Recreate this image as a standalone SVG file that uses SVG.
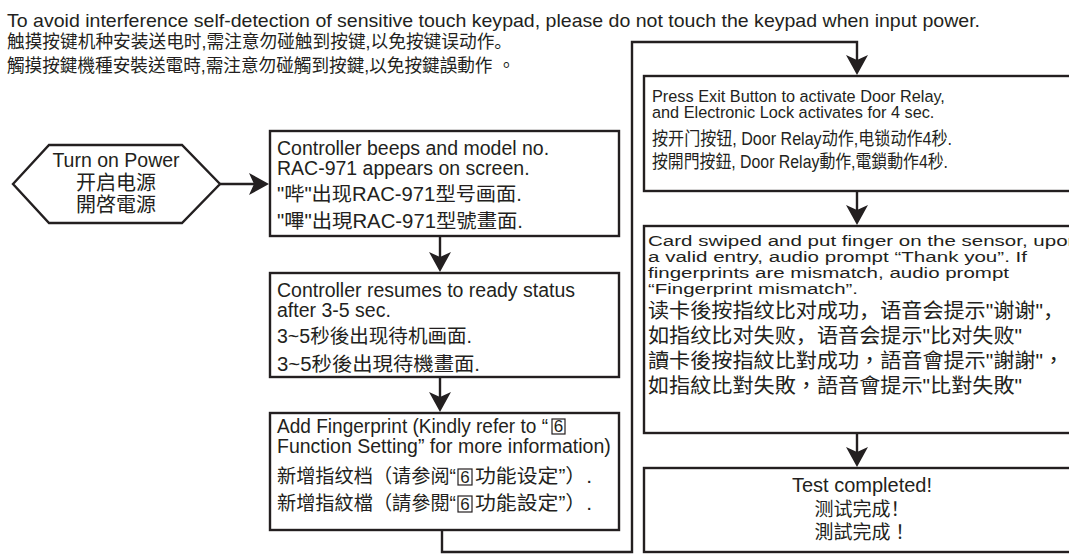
<svg xmlns="http://www.w3.org/2000/svg" width="1069" height="557" viewBox="0 0 1069 557">
<defs>
<marker id="ah" viewBox="0 0 20 22" refX="10" refY="11" markerWidth="20" markerHeight="22" markerUnits="userSpaceOnUse" orient="auto"><path d="M0,0 L20,11 L0,22 L5,11 Z" fill="#231f20"/></marker>
</defs>
<style>
.box{fill:#fff;stroke:#231f20;stroke-width:2.4}
.sq{fill:none;stroke:#231f20;stroke-width:1.2}
.conn{fill:none;stroke:#231f20;stroke-width:2.4}
text{fill:#231f20;font-family:"Liberation Sans",Arial,sans-serif}
.sc{font-family:"Liberation Sans","Noto Sans CJK SC",sans-serif}
.tc{font-family:"Liberation Sans","Noto Sans CJK TC",sans-serif}
.hd{font-size:18.5px}
.hc{font-size:18px}
.L{font-size:19.5px}
.R{font-size:16.3px}
.R5{font-size:15.5px}
.RC{font-size:20px}
.mid{text-anchor:middle}
</style>
<g id="header">
<text class="hd" x="7" y="27" textLength="973" lengthAdjust="spacingAndGlyphs">To avoid interference self-detection of sensitive touch keypad, please do not touch the keypad when input power.</text>
<text class="sc hc" x="7" y="48" textLength="505" lengthAdjust="spacingAndGlyphs">触摸按键机种安装送电时,需注意勿碰触到按键,以免按键误动作。</text>
<text class="tc hc" x="7" y="72" textLength="508" lengthAdjust="spacingAndGlyphs">觸摸按鍵機種安裝送電時,需注意勿碰觸到按鍵,以免按鍵誤動作 。</text>
</g>
<g id="connectors">
<path class="conn" d="M220,184 H259" marker-end="url(#ah)"/>
<path class="conn" d="M440,236 V262" marker-end="url(#ah)"/>
<path class="conn" d="M440,377 V402" marker-end="url(#ah)"/>
<path class="conn" d="M442,530 V552 H632 V42 H857 V65" marker-end="url(#ah)"/>
<path class="conn" d="M857,191 V215" marker-end="url(#ah)"/>
<path class="conn" d="M857,433 V457" marker-end="url(#ah)"/>
</g>
<g id="power">
<polygon class="box" points="13,184 49,145 182,145 220,184 182,223 49,223"/>
<text class="L mid" x="116" y="167">Turn on Power</text>
<text class="sc mid" style="font-size:20px" x="116" y="190">开启电源</text>
<text class="tc mid" style="font-size:20px" x="116" y="212">開啓電源</text>
</g>
<g id="beeps">
<rect class="box" x="270" y="131" width="349" height="105"/>
<text class="L" x="277" y="155">Controller beeps and model no.</text>
<text class="L" x="277" y="175">RAC-971 appears on screen.</text>
<text class="sc L" x="277" y="201" textLength="245" lengthAdjust="spacingAndGlyphs">"哔"出现RAC-971型号画面.</text>
<text class="tc L" x="277" y="228" textLength="246" lengthAdjust="spacingAndGlyphs">"嗶"出現RAC-971型號畫面.</text>
</g>
<g id="ready">
<rect class="box" x="270" y="273" width="349" height="104"/>
<text class="L" x="277" y="297">Controller resumes to ready status</text>
<text class="L" x="277" y="317">after 3-5 sec.</text>
<text class="sc L" x="277" y="343" textLength="195" lengthAdjust="spacingAndGlyphs">3~5秒後出现待机画面.</text>
<text class="tc L" x="277" y="371" textLength="203" lengthAdjust="spacingAndGlyphs">3~5秒後出現待機畫面.</text>
</g>
<g id="addfp">
<rect class="box" x="270" y="413" width="349" height="117"/>
<text class="L" x="277" y="433" textLength="271" lengthAdjust="spacingAndGlyphs">Add Fingerprint (Kindly refer to “</text>
<rect class="sq" x="552" y="419" width="13" height="15"/>
<text class="mid" style="font-size:17px" x="558.5" y="432">6</text>
<text class="L" x="277" y="453">Function Setting” for more information)</text>
<text class="sc L" x="277" y="483" textLength="179" lengthAdjust="spacingAndGlyphs">新增指纹档（请参阅“</text>
<rect class="sq" x="458" y="469" width="14" height="16"/>
<text class="mid" style="font-size:17px" x="465" y="483">6</text>
<text class="sc L" x="475" y="483" textLength="117" lengthAdjust="spacingAndGlyphs">功能设定”）.</text>
<text class="tc L" x="277" y="510" textLength="179" lengthAdjust="spacingAndGlyphs">新增指紋檔（請參閱“</text>
<rect class="sq" x="458" y="496" width="14" height="16"/>
<text class="mid" style="font-size:17px" x="465" y="510">6</text>
<text class="tc L" x="475" y="510" textLength="117" lengthAdjust="spacingAndGlyphs">功能設定”）.</text>
</g>
<g id="exit">
<rect class="box" x="644" y="76" width="440" height="115"/>
<text class="R" x="652" y="102">Press Exit Button to activate Door Relay,</text>
<text class="R" x="652" y="118">and Electronic Lock activates for 4 sec.</text>
<text class="sc" style="font-size:18px" x="652" y="145" textLength="300" lengthAdjust="spacingAndGlyphs">按开门按钮, Door Relay动作,电锁动作4秒.</text>
<text class="tc" style="font-size:18px" x="652" y="168" textLength="296" lengthAdjust="spacingAndGlyphs">按開門按鈕, Door Relay動作,電鎖動作4秒.</text>
</g>
<g id="verify">
<rect class="box" x="644" y="226" width="440" height="207"/>
<text class="R5" x="648" y="246" textLength="431" lengthAdjust="spacingAndGlyphs">Card swiped and put finger on the sensor, upon</text>
<text class="R5" x="648" y="262" textLength="379" lengthAdjust="spacingAndGlyphs">a valid entry, audio prompt “Thank you”. If</text>
<text class="R5" x="648" y="278" textLength="361" lengthAdjust="spacingAndGlyphs">fingerprints are mismatch, audio prompt</text>
<text class="R5" x="648" y="294" textLength="210" lengthAdjust="spacingAndGlyphs">“Fingerprint mismatch”.</text>
<text class="sc RC" x="648" y="318" textLength="416" lengthAdjust="spacingAndGlyphs">读卡後按指纹比对成功，语音会提示"谢谢"，</text>
<text class="sc RC" x="648" y="343" textLength="374" lengthAdjust="spacingAndGlyphs">如指纹比对失败，语音会提示"比对失败"</text>
<text class="tc RC" x="648" y="368" textLength="416" lengthAdjust="spacingAndGlyphs">讀卡後按指紋比對成功，語音會提示"謝謝"，</text>
<text class="tc RC" x="648" y="393" textLength="374" lengthAdjust="spacingAndGlyphs">如指紋比對失敗，語音會提示"比對失敗"</text>
</g>
<g id="done">
<rect class="box" x="644" y="468" width="440" height="84"/>
<text class="mid" style="font-size:20px" x="862" y="492">Test completed!</text>
<text class="sc mid" style="font-size:19px" x="862" y="516">测试完成！</text>
<text class="tc mid" style="font-size:19px" x="862" y="539">測試完成！</text>
</g>
</svg>
